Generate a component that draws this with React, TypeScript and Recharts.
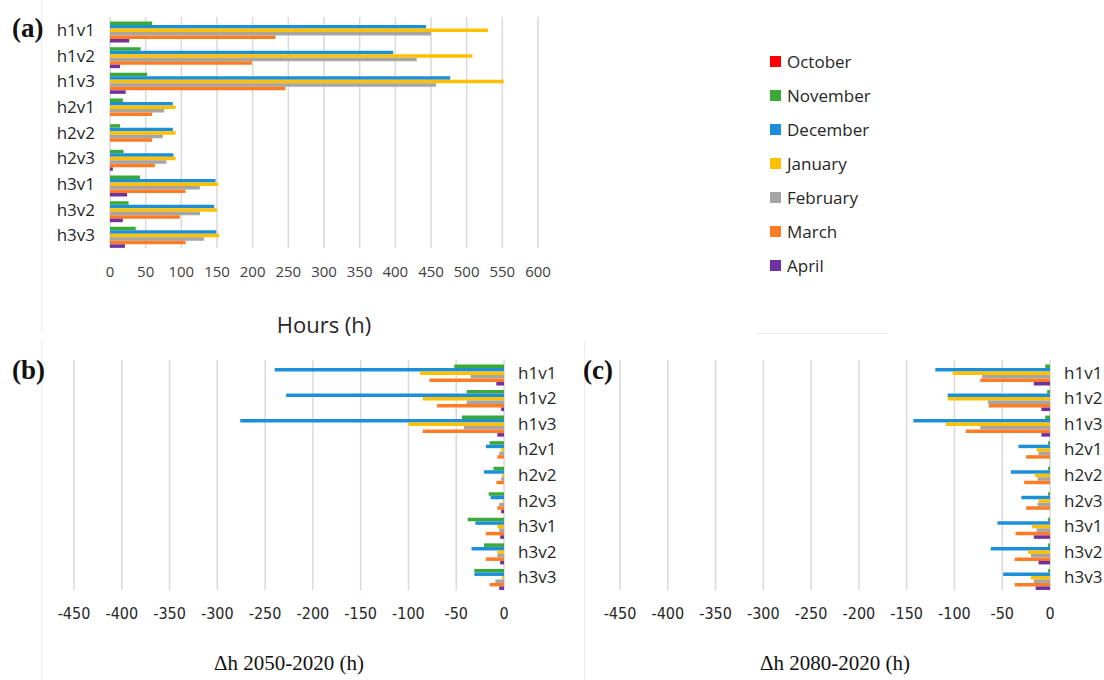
import React from 'react';
import { BarChart, Bar, XAxis, YAxis, CartesianGrid, Legend } from 'recharts';

const categories = ['h1v1', 'h1v2', 'h1v3', 'h2v1', 'h2v2', 'h2v3', 'h3v1', 'h3v2', 'h3v3'];
const months = ['October', 'November', 'December', 'January', 'February', 'March', 'April'];
const COLORS = ['#FF0000', '#3BA935', '#1B8FD8', '#FFC000', '#A5A5A5', '#FF7C24', '#7030A0'];

// (a) hours per month
const hoursOct = [0, 0, 0, 0, 0, 0, 0, 0, 0];
const hoursNov = [59, 43, 52, 18, 14, 19, 42, 26, 36];
const hoursDec = [443, 397, 477, 88, 88, 89, 148, 146, 149];
const hoursJan = [530, 508, 552, 92, 92, 92, 152, 150, 153];
const hoursFeb = [450, 430, 457, 76, 74, 79, 126, 126, 132];
const hoursMar = [232, 199, 246, 59, 59, 63, 106, 98, 106];
const hoursApr = [27, 14, 22, 0, 0, 4, 24, 18, 21];

// (b) change 2050-2020
const d2050Oct = [0, 0, 0, 0, 0, 0, 0, 0, 0];
const d2050Nov = [-52, -39, -44, -15, -11, -16, -38, -21, -31];
const d2050Dec = [-240, -228, -276, -19, -21, -14, -30, -34, -31];
const d2050Jan = [-88, -85, -100, -3, -2, -1, -7, -7, -2];
const d2050Feb = [-35, -39, -42, -5, -3, -5, -5, -7, -9];
const d2050Mar = [-78, -70, -85, -7, -8, -7, -19, -19, -15];
const d2050Apr = [-8, -3, -7, 0, 0, -3, -4, -4, -5];

// (c) change 2080-2020
const d2080Oct = [0, 0, 0, 0, 0, 0, 0, 0, 0];
const d2080Nov = [-5, -3, -5, -2, -2, -2, -2, -2, -2];
const d2080Dec = [-120, -107, -143, -33, -41, -30, -55, -62, -49];
const d2080Jan = [-102, -107, -109, -14, -16, -12, -19, -23, -20];
const d2080Feb = [-71, -65, -73, -12, -13, -13, -14, -20, -17];
const d2080Mar = [-73, -64, -88, -25, -27, -25, -36, -37, -37];
const d2080Apr = [-17, -9, -9, 0, 0, 0, -17, -12, -15];

const hoursTicks = [0, 50, 100, 150, 200, 250, 300, 350, 400, 450, 500, 550, 600];
const deltaTicks = [-450, -400, -350, -300, -250, -200, -150, -100, -50, 0];

const SANS = '"Open Sans", "Noto Sans", sans-serif';
const NARROW = '"Liberation Sans Narrow", "DejaVu Sans Condensed", "Roboto", sans-serif';
const SERIF = '"Liberation Serif", "DejaVu Serif", serif';

const buildRows = (series: number[][]) =>
  categories.map((name, i) => {
    const row: Record<string, any> = { name };
    months.forEach((m, j) => {
      row[m] = series[j][i];
    });
    return row;
  });

const hoursData = buildRows([hoursOct, hoursNov, hoursDec, hoursJan, hoursFeb, hoursMar, hoursApr]);
const data2050 = buildRows([d2050Oct, d2050Nov, d2050Dec, d2050Jan, d2050Feb, d2050Mar, d2050Apr]);
const data2080 = buildRows([d2080Oct, d2080Nov, d2080Dec, d2080Jan, d2080Feb, d2080Mar, d2080Apr]);

// legend keeps the series order (Recharts sorts by name otherwise)
const renderLegend = (props: any) => {
  const items = months
    .map((m) => (props.payload || []).find((p: any) => p.value === m))
    .filter(Boolean);
  return (
    <ul style={{ listStyle: 'none', margin: 0, padding: 0 }}>
      {items.map((entry: any) => (
        <li
          key={entry.value}
          style={{ display: 'flex', alignItems: 'center', height: 34, fontFamily: SANS, fontSize: 17, color: '#262626' }}
        >
          <span style={{ display: 'inline-block', width: 11, height: 11, background: entry.color, marginRight: 6 }} />
          {entry.value}
        </li>
      ))}
    </ul>
  );
};

const bars = () =>
  months.map((m, j) => (
    <Bar key={m} dataKey={m} name={m} fill={COLORS[j]} isAnimationActive={false} />
  ));

const panelLabel = (text: string, left: number, top: number) => (
  <div
    style={{
      position: 'absolute',
      left,
      top,
      fontFamily: SERIF,
      fontWeight: 'bold',
      fontSize: 27,
      color: '#111',
      lineHeight: '30px',
    }}
  >
    {text}
  </div>
);

function DeltaChart({ data, title, marginLeft }: { data: any[]; title: string; marginLeft: number }) {
  return (
    <BarChart
      width={marginLeft + 430 + 56}
      height={340}
      data={data}
      layout="vertical"
      barSize={3.5}
      barGap={0}
      margin={{ top: 20, right: 0, left: marginLeft, bottom: 0 }}
    >
      <CartesianGrid horizontal={false} stroke="#d9d9d9" strokeWidth={1.5} />
      <XAxis
        type="number"
        domain={[-450, 0]}
        ticks={deltaTicks}
        interval={0}
        axisLine={false}
        tickLine={false}
        tickSize={0}
        tickMargin={18}
        height={90}
        tick={{ fontFamily: NARROW, fontSize: 16, fill: '#262626' }}
        label={{ value: title, position: 'insideBottom', offset: 10, fontFamily: SERIF, fontSize: 21, fill: '#111' }}
      />
      <YAxis
        type="category"
        dataKey="name"
        orientation="right"
        width={56}
        axisLine={false}
        tickLine={false}
        tickSize={0}
        tickMargin={14}
        tick={{ fontFamily: SANS, fontSize: 17, fill: '#262626' }}
      />
      {bars()}
    </BarChart>
  );
}

export default function App() {
  return (
    <div style={{ position: 'absolute', left: 0, top: 0, width: 1104, height: 680, background: '#fff', overflow: 'hidden' }}>
      {/* faint panel frames */}
      <div style={{ position: 'absolute', left: 41, top: 0, width: 0, height: 332, borderLeft: '1px solid #ededed' }} />
      <div style={{ position: 'absolute', left: 756, top: 333, width: 132, height: 0, borderTop: '1px solid #ededed' }} />
      <div style={{ position: 'absolute', left: 41, top: 340, width: 0, height: 340, borderLeft: '1px solid #ededed' }} />
      <div style={{ position: 'absolute', left: 584, top: 340, width: 0, height: 340, borderLeft: '1px solid #ededed' }} />

      <div style={{ position: 'absolute', left: 0, top: 0 }}>
        <BarChart
          width={560}
          height={345}
          data={hoursData}
          layout="vertical"
          barSize={3.5}
          barGap={0}
          margin={{ top: 17, right: 22, left: 0, bottom: 0 }}
        >
          <CartesianGrid horizontal={false} stroke="#d9d9d9" strokeWidth={1.5} />
          <XAxis
            type="number"
            domain={[0, 600]}
            ticks={hoursTicks}
            interval={0}
            axisLine={false}
            tickLine={false}
            tickSize={0}
            tickMargin={18}
            height={97}
            tick={{ fontFamily: SANS, fontSize: 15, fill: '#404040' }}
            label={{ value: 'Hours (h)', position: 'insideBottom', offset: 12, fontFamily: SANS, fontSize: 22, fill: '#262626' }}
          />
          <YAxis
            type="category"
            dataKey="name"
            width={110}
            axisLine={false}
            tickLine={false}
            tickSize={0}
            tickMargin={15}
            tick={{ fontFamily: SANS, fontSize: 17, fill: '#262626' }}
          />
          <Legend
            layout="vertical"
            align="center"
            verticalAlign="middle"
            content={renderLegend}
            wrapperStyle={{ position: 'absolute', left: 770, top: 44, width: 140 }}
          />
          {bars()}
        </BarChart>
      </div>

      <div style={{ position: 'absolute', left: 0, top: 340 }}>
        <DeltaChart data={data2050} title="Δh 2050-2020 (h)" marginLeft={74} />
      </div>
      <div style={{ position: 'absolute', left: 560, top: 340 }}>
        <DeltaChart data={data2080} title="Δh 2080-2020 (h)" marginLeft={60} />
      </div>

      {panelLabel('(a)', 12, 13)}
      {panelLabel('(b)', 12, 355)}
      {panelLabel('(c)', 583, 355)}
    </div>
  );
}
